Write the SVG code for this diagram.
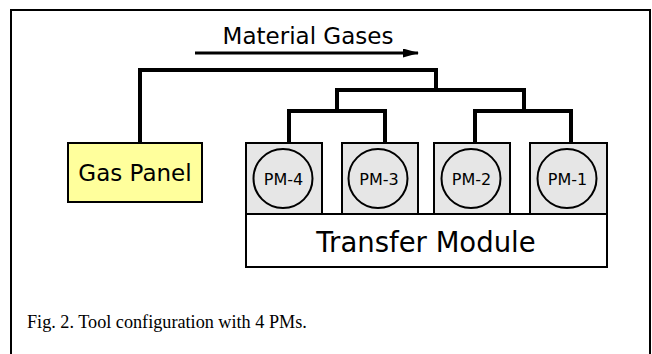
<svg xmlns="http://www.w3.org/2000/svg" width="652" height="354" viewBox="0 0 652 354">
<defs>
<style>
.sans{font-family:"DejaVu Sans","Liberation Sans",sans-serif;fill:#000;text-anchor:middle}
.box{stroke:#000;stroke-width:2}
.pm{fill:#e6e6e6}
.pipe{fill:none;stroke:#000;stroke-width:4;stroke-linejoin:miter}
</style>
<marker id="ah" markerWidth="16" markerHeight="9" refX="15" refY="4.5" orient="auto" markerUnits="userSpaceOnUse">
<path d="M0,0 L16,4.5 L0,9 Z" fill="#000"/>
</marker>
</defs>
<rect width="652" height="354" fill="#fff"/>
<rect x="11" y="10" width="639" height="400" fill="none" stroke="#000" stroke-width="2"/>
<g id="label-material">
<text class="sans" x="308" y="44" font-size="23">Material Gases</text>
<line x1="195" y1="53" x2="418" y2="53" stroke="#000" stroke-width="3" marker-end="url(#ah)"/>
</g>
<g id="connectors">
<path class="pipe" d="M140,143 V70 H436 V90"/>
<path class="pipe" d="M337,111 V90 H524 V111"/>
<path class="pipe" d="M289,143 V111 H385 V143"/>
<path class="pipe" d="M475,143 V111 H571 V143"/>
</g>
<g id="gas-panel">
<rect class="box" x="68" y="143" width="134" height="59" fill="#ffff9c"/>
<text class="sans" x="135" y="181" font-size="23">Gas Panel</text>
</g>
<g id="pm-4">
<rect class="box pm" x="246" y="143" width="76" height="71"/>
<circle class="box pm" cx="283" cy="178.5" r="29.5"/>
<text class="sans" x="283.5" y="185" font-size="16">PM-4</text>
</g>
<g id="pm-3">
<rect class="box pm" x="342" y="143" width="76" height="71"/>
<circle class="box pm" cx="378" cy="178.5" r="29.5"/>
<text class="sans" x="379" y="185" font-size="16">PM-3</text>
</g>
<g id="pm-2">
<rect class="box pm" x="434" y="143" width="76" height="71"/>
<circle class="box pm" cx="471" cy="178.5" r="29.5"/>
<text class="sans" x="471.5" y="185" font-size="16">PM-2</text>
</g>
<g id="pm-1">
<rect class="box pm" x="530" y="143" width="77" height="71"/>
<circle class="box pm" cx="567" cy="178.5" r="29.5"/>
<text class="sans" x="567.5" y="185" font-size="16">PM-1</text>
</g>
<g id="transfer-module">
<rect class="box" x="246" y="214" width="361" height="53" fill="#fff"/>
<text class="sans" x="426" y="252" font-size="27.5">Transfer Module</text>
</g>
<text x="27" y="328" font-family="'Liberation Serif','Times New Roman',serif" font-size="18.2" fill="#000">Fig. 2. Tool configuration with 4 PMs.</text>
</svg>
